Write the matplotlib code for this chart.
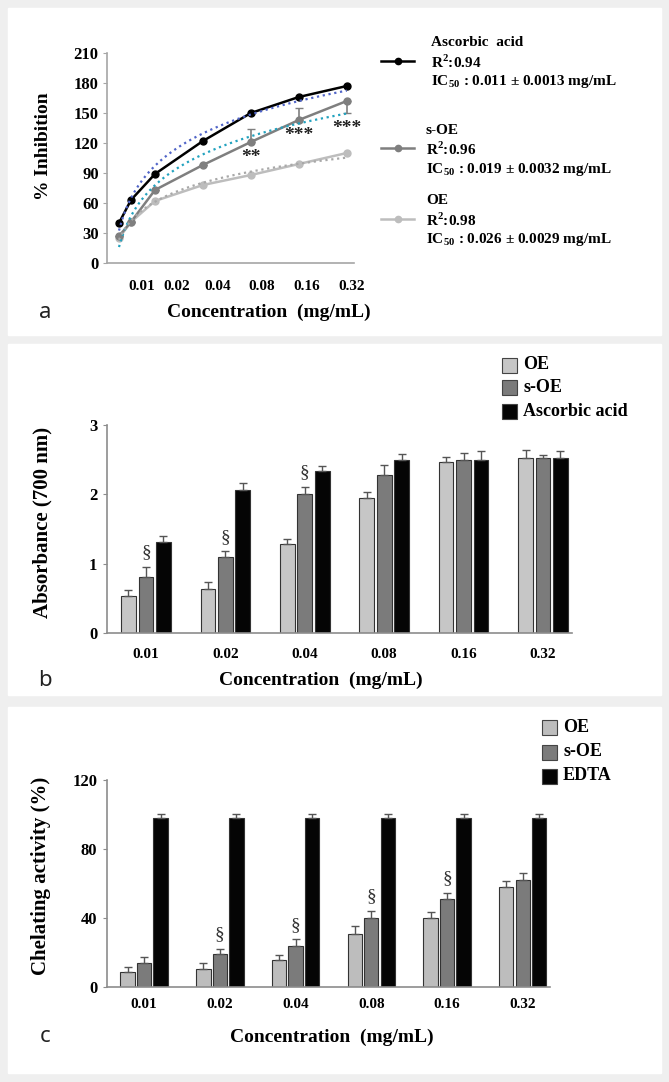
import matplotlib.pyplot as plt
import numpy as np
from matplotlib.patches import Rectangle
from matplotlib.lines import Line2D

plt.rcParams['font.family'] = ['Liberation Serif', 'DejaVu Serif']
plt.rcParams['font.weight'] = 'bold'
plt.rcParams['mathtext.fontset'] = 'custom'
plt.rcParams['mathtext.rm'] = 'Liberation Serif:bold'
plt.rcParams['mathtext.bf'] = 'Liberation Serif:bold'

# ---- panel a: % inhibition curves ----
a_x = [0.25, 0.5, 1, 2, 3, 4, 5]
a_tick_pos = [0.73, 1.46, 2.31, 3.23, 4.17, 5.1]
conc_labels = ['0.01', '0.02', '0.04', '0.08', '0.16', '0.32']
a_ascorbic = [40, 63, 89, 122, 150, 166, 177]
a_soe = [27, 41, 73, 98, 121, 143, 162]
a_oe = [25, 41, 62, 78, 88, 99, 110]
a_soe_err_up = [0, 0, 0, 0, 13, 12, 0]
a_soe_err_lo = [0, 0, 0, 0, 0, 0, 12]
a_stars = ['', '', '', '', '**', '***', '***']
a_names = ['Ascorbic  acid', 's-OE', 'OE']
a_r2 = ['0.94', '0.96', '0.98']
a_ic50 = ['0.011 ± 0.0013', '0.019 ± 0.0032', '0.026 ± 0.0029']

# ---- panel b: reducing power ----
b_oe = [0.53, 0.63, 1.28, 1.94, 2.47, 2.52]
b_oe_err = [0.09, 0.10, 0.07, 0.10, 0.07, 0.12]
b_soe = [0.81, 1.10, 2.01, 2.28, 2.49, 2.52]
b_soe_err = [0.14, 0.08, 0.10, 0.15, 0.10, 0.05]
b_aa = [1.31, 2.06, 2.34, 2.50, 2.49, 2.52]
b_aa_err = [0.09, 0.11, 0.07, 0.08, 0.14, 0.10]
b_sig = ['§', '§', '§', '', '', '']

# ---- panel c: chelating activity ----
c_oe = [8.7, 10.6, 15.9, 31.0, 39.8, 58.0]
c_oe_err = [2.9, 3.5, 2.9, 4.2, 3.7, 3.3]
c_soe = [13.9, 19.0, 23.6, 39.8, 51.1, 61.9]
c_soe_err = [3.3, 3.1, 4.1, 4.3, 3.6, 3.9]
c_edta = [98, 98, 98, 98, 98, 98]
c_edta_err = [2.3, 2.3, 2.3, 2.3, 2.3, 2.3]
c_sig = ['', '§', '§', '§', '§', '']

W, H = 669, 1082
fig = plt.figure(figsize=(W / 100, H / 100), dpi=100, facecolor='#efefef')


def fx(x):
    return x / W


def fy(y):
    return 1 - y / H


def box(x0, y0, x1, y1):
    # pixel box -> figure fraction rect
    return [fx(x0), fy(y1), (x1 - x0) / W, (y1 - y0) / H]


for top, bot in [(8, 335), (344, 695), (707, 1073)]:
    fig.patches.append(Rectangle((fx(8), fy(bot)), (661 - 8) / W, (bot - top) / H,
                                 transform=fig.transFigure, color='white', zorder=-5))


def style_axes(ax, spine_col):
    for s in ['top', 'right']:
        ax.spines[s].set_visible(False)
    for s in ['left', 'bottom']:
        ax.spines[s].set_color(spine_col)
        ax.spines[s].set_linewidth(1.2)
    ax.patch.set_alpha(0)
    ax.set_zorder(2)


def panel_letter(x, y, s):
    fig.text(fx(x), fy(y), s, family='Noto Sans', weight='normal', fontsize=16,
             color='#222222', ha='center', va='center')


# ================= panel a =================
axa = fig.add_axes(box(107, 53, 354, 263))
style_axes(axa, '#a6a6a6')
col_aa, col_soe, col_oe = '#000000', '#7f7f7f', '#bdbdbd'
trend_cols = ['#5165c8', '#22a2bf', '#a8a8a8']

axa.plot(a_x, a_oe, '-o', color=col_oe, lw=1.8, ms=5, zorder=3)
axa.plot(a_x, a_soe, '-o', color=col_soe, lw=1.8, ms=5, zorder=4)
axa.plot(a_x, a_ascorbic, '-o', color=col_aa, lw=1.8, ms=5, zorder=5)
axa.errorbar(a_x, a_soe, yerr=[a_soe_err_lo, a_soe_err_up], fmt='none',
             ecolor=col_soe, elinewidth=1.2, capsize=3, zorder=4)

# logarithmic trendlines fitted to each series
xf = np.linspace(min(a_x), max(a_x), 200)
for ys, c in zip([a_ascorbic, a_soe, a_oe], trend_cols):
    k, b0 = np.polyfit(np.log(a_x), ys, 1)
    axa.plot(xf, k * np.log(xf) + b0, ':', color=c, lw=1.6, zorder=6)

for x, y, lo, st in zip(a_x, a_soe, a_soe_err_lo, a_stars):
    if st:
        axa.annotate(st, (x, y - lo), xytext=(0, -11), textcoords='offset points',
                     ha='center', va='center', fontsize=14, color='#222222')

axa.set_xlim(0, 5.15)
axa.set_ylim(0, 210)
axa.set_yticks(range(0, 211, 30))
axa.set_xticks(a_tick_pos)
axa.set_xticklabels(conc_labels)
axa.tick_params(axis='y', length=3, color='#a6a6a6', labelsize=12, pad=3)
axa.tick_params(axis='x', length=0, labelsize=11, pad=12)

fig.text(fx(43), fy(146), '% Inhibition', rotation=90, fontsize=14,
         ha='center', va='center')
fig.text(fx(269), fy(312), 'Concentration  (mg/mL)', fontsize=14,
         ha='center', va='center')
panel_letter(45, 312, 'a')

# legend a
leg_rows = [(42, 62, 82, 431), (130, 149, 169, 426), (200, 220, 239, 426)]
for (y0, y1, y2, tx), name, r2, ic, c in zip(leg_rows, a_names, a_r2, a_ic50,
                                              [col_aa, col_soe, col_oe]):
    yl = y1 - 1
    fig.add_artist(Line2D([fx(381), fx(414)], [fy(yl), fy(yl)], color=c, lw=1.8,
                          transform=fig.transFigure))
    fig.add_artist(Line2D([fx(398)], [fy(yl)], color=c, marker='o', ms=4.5,
                          transform=fig.transFigure))
    fig.text(fx(tx), fy(y0), name, fontsize=11, va='center')
    fig.text(fx(tx), fy(y1), 'R$^{2}$:' + r2, fontsize=11, va='center')
    fig.text(fx(tx), fy(y2), 'IC$_{50}$ : ' + ic + ' mg/mL', fontsize=11, va='center')


# ================= bar panels =================
def bar_panel(rect, vals, errs, cols, sig, ylim, yticks, names, leg_x, leg_y,
              off=0.22, width=0.185):
    ax = fig.add_axes(rect)
    style_axes(ax, '#8c8c8c')
    idx = np.arange(len(vals[0]))
    for k, (v, e, c) in enumerate(zip(vals, errs, cols)):
        xs = idx + (k - 1) * off
        ax.bar(xs, v, width=width, color=c, edgecolor='#333333', lw=0.8, zorder=2)
        ax.errorbar(xs, v, yerr=[np.zeros(len(v)), e], fmt='none', ecolor='#555555',
                    elinewidth=1.0, capsize=3, capthick=1.0, zorder=3)
    tops = np.array(vals[1]) + np.array(errs[1])
    for i, s in enumerate(sig):
        if s:
            ax.annotate(s, (idx[i], tops[i]), xytext=(0, 4), textcoords='offset points',
                        ha='center', va='bottom', fontsize=14, weight='normal',
                        color='#333333')
    ax.set_xticks(idx)
    ax.set_xticklabels(conc_labels)
    ax.set_ylim(*ylim)
    ax.set_yticks(yticks)
    ax.tick_params(axis='y', length=3, color='#8c8c8c', labelsize=12, pad=4)
    ax.tick_params(axis='x', length=0, labelsize=11)
    for name, c, y in zip(names, cols, leg_y):
        fig.patches.append(Rectangle((fx(leg_x), fy(y + 7.5)), 15 / W, 15 / H,
                                     transform=fig.transFigure, facecolor=c,
                                     edgecolor='#444444', lw=0.8, zorder=3))
        fig.text(fx(leg_x + 21), fy(y), name, fontsize=13, va='center')
    return ax


bar_cols = ['#c6c6c6', '#7b7b7b', '#050505']

axb = bar_panel(box(107, 425, 572, 633), [b_oe, b_soe, b_aa],
                [b_oe_err, b_soe_err, b_aa_err], bar_cols, b_sig, (0, 3), [0, 1, 2, 3],
                ['OE', 's-OE', 'Ascorbic acid'], 502, [365, 387, 411])
axb.set_xlim(-0.49, 5.365)
axb.tick_params(axis='x', pad=11)
fig.text(fx(42), fy(522), 'Absorbance (700 nm)', rotation=90, fontsize=15,
         ha='center', va='center')
fig.text(fx(321), fy(680), 'Concentration  (mg/mL)', fontsize=14,
         ha='center', va='center')
panel_letter(45, 680, 'b')

axc = bar_panel(box(107, 780, 550, 987), [c_oe, c_soe, c_edta],
                [c_oe_err, c_soe_err, c_edta_err], ['#bdbdbd', '#7b7b7b', '#050505'],
                c_sig, (0, 120), [0, 40, 80, 120], ['OE', 's-OE', 'EDTA'], 542,
                [727, 752, 776], off=0.218, width=0.19)
axc.set_xlim(-0.49, 5.36)
axc.tick_params(axis='x', pad=8)
fig.text(fx(41), fy(876), 'Chelating activity (%)', rotation=90, fontsize=15,
         ha='center', va='center')
fig.text(fx(332), fy(1037), 'Concentration  (mg/mL)', fontsize=14,
         ha='center', va='center')
panel_letter(45, 1037, 'c')

fig.savefig('out.png', dpi=100, facecolor=fig.get_facecolor())
